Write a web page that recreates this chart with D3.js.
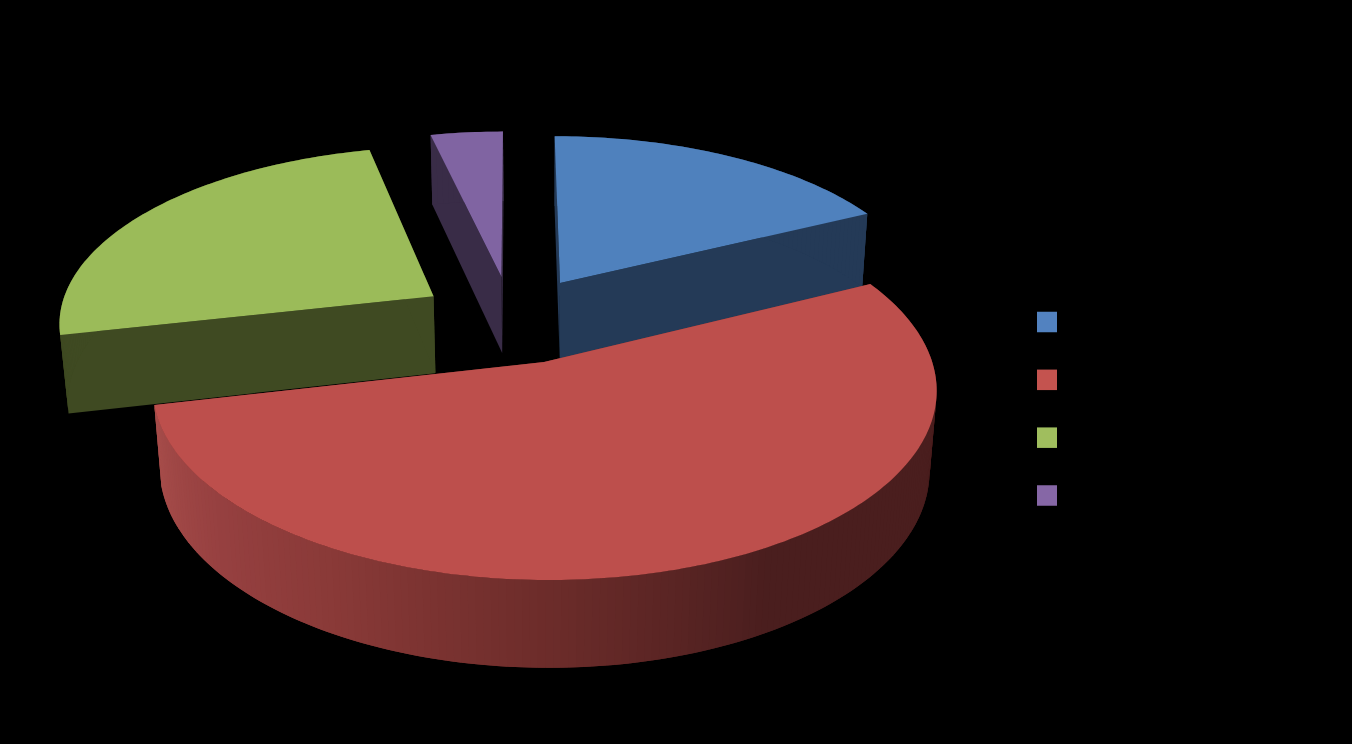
<!DOCTYPE html>
<html>
<head>
<meta charset="utf-8">
<script src="https://cdn.jsdelivr.net/npm/d3@7"></script>
<style>html,body{margin:0;padding:0;background:#000;overflow:hidden}svg{display:block}</style>
</head>
<body>
<svg id="chart" width="1352" height="744"></svg>
<script>
// Share of each slice, in percent (legend labels are black on black in the reference).
const seriesValues = [17.72, 53.69, 24.95, 3.6];
const topColors = ["#4f81bd", "#bd4f4c", "#9bbb59", "#8064a2"];
const wallColors = ["#243a57", "#7a3230", "#3f4a22", "#392c47"];
const legendColors = ["#5282c0", "#c4534f", "#a0be5e", "#8667a6"];
const paintOrder = [0, 2, 3, 1];

const W = 1352, H = 744;
const svg = d3.select("#chart").attr("viewBox", [0, 0, W, H]);

// Pie layout: clockwise from 12 o'clock
const arcs = d3.pie().sort(null)(seriesValues);

// Perspective projection of the pie's ground plane
const cx = 544, cy = 362, A = 388.2, a = 187.5, b = 0.14, c = 0.018, d = 81, s0 = 30;
const explode = 0.25;
function project(u, v, bottom) {
  const w = 1 + b * v + (bottom ? c : 0);
  return [cx + (A * u - s0 * b * v) / w, cy - (a * v - (bottom ? d : 0)) / w];
}
const mid0 = (arcs[1].startAngle + arcs[1].endAngle) / 2;
const origin = [-explode * Math.sin(mid0), -explode * Math.cos(mid0)];

const line = d3.line();
const STEP = Math.PI / 180;

// Lighting of the outer wall of the large slice, by angle in degrees
const rimShade = d3.scaleLinear()
  .domain([60, 150, 180, 210, 230, 258])
  .range(["#4a1e1e", "#4a1e1e", "#6c2c2a", "#8a3a38", "#964040", "#a84e4b"])
  .clamp(true);

paintOrder.forEach(i => {
  const s = arcs[i];
  const mid = (s.startAngle + s.endAngle) / 2;
  const ox = origin[0] + explode * Math.sin(mid);
  const oy = origin[1] + explode * Math.cos(mid);
  const n = Math.max(2, Math.ceil((s.endAngle - s.startAngle) / STEP));
  const angles = d3.range(n + 1).map(k => s.startAngle + (s.endAngle - s.startAngle) * k / n);
  const rim = t => [ox + Math.sin(t), oy + Math.cos(t)];
  const g = svg.append("g");

  // cut walls
  [s.startAngle, s.endAngle].forEach(t => {
    const p = rim(t);
    g.append("path")
      .attr("d", line([project(ox, oy, false), project(p[0], p[1], false), project(p[0], p[1], true), project(ox, oy, true)]) + "Z")
      .attr("fill", wallColors[i]);
  });

  // outer wall: each facet overlaps the next so that no seams show
  d3.pairs(angles).forEach(([t0, t1], k) => {
    const p0 = rim(t0), p1 = rim(k < n - 1 ? t1 + (t1 - t0) : t1);
    const col = i === 1 ? rimShade((t0 + t1) / 2 * 180 / Math.PI) : wallColors[i];
    g.append("path")
      .attr("d", line([project(p0[0], p0[1], false), project(p1[0], p1[1], false), project(p1[0], p1[1], true), project(p0[0], p0[1], true)]) + "Z")
      .attr("fill", col);
  });

  // top face
  const topPts = [project(ox, oy, false)].concat(angles.map(t => {
    const p = rim(t); return project(p[0], p[1], false);
  }));
  g.append("path").attr("d", line(topPts) + "Z").attr("fill", topColors[i]);
});

// Legend
const legendY = d3.scalePoint().domain(d3.range(seriesValues.length)).range([322, 495.5]);
svg.append("g").selectAll("rect").data(legendColors).join("rect")
  .attr("x", 1037).attr("width", 20).attr("height", 20.5)
  .attr("y", (_, i) => legendY(i) - 10.25)
  .attr("fill", d => d);
</script>
</body>
</html>
